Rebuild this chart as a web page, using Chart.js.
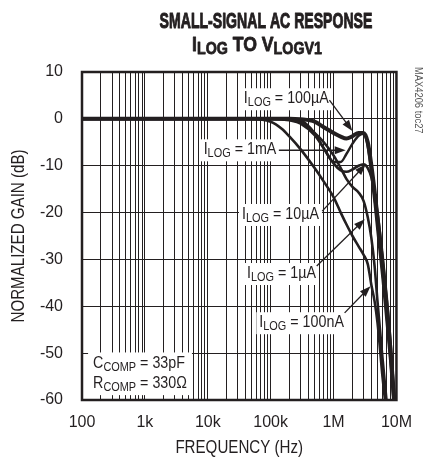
<!DOCTYPE html>
<html>
<head>
<meta charset="utf-8">
<script src="https://cdn.jsdelivr.net/npm/chart.js@4.4.1/dist/chart.umd.min.js"></script>
<style>
  html, body { margin: 0; padding: 0; background: #fff; }
  #wrap { width: 425px; height: 460px; }
</style>
</head>
<body>
<div id="wrap"><canvas id="chart" width="425" height="460"></canvas></div>
<script>
const FONT = "'Liberation Sans', Arial, sans-serif";
const INK = '#231f20';
const SQUEEZE = 0.84; // narrow-type look

// frequency points (Hz)
const freqs = [100, 1e3, 1e4, 5e4, 1e5, 1.5e5, 2e5, 3e5, 5e5, 7e5, 1e6, 1.3e6, 1.6e6, 2e6, 2.5e6, 3e6, 3.5e6, 4e6, 4.5e6, 5e6, 6e6, 7e6, 8e6, 9e6, 1e7];

// normalized gain (dB) for each ILOG
const gain100nA = [0, 0, 0, 0, -0.6, -2.1, -3.8, -6.5, -10.5, -13.4, -16.7, -20, -22.5, -25, -27.2, -29, -31, -35.5, -39, -43.5, -55, -63.5, -71, -78, -85];
const gain1uA   = [0, 0, 0, 0, 0, 0, -0.2, -0.8, -3, -5, -7.8, -10.5, -12.8, -14.5, -15.7, -17.5, -21, -25.5, -31.5, -39, -51, -60.5, -68, -75, -82];
const gain10uA  = [0, 0, 0, 0, 0, -0.1, -0.3, -1, -3.5, -6.3, -9.5, -11, -11.3, -10.8, -10, -9.7, -10.5, -12.5, -16, -20, -29, -38, -47, -57, -65];
const gain100uA = [0, 0, 0, 0, 0, 0, 0, -0.1, -0.6, -1.8, -3, -3.8, -4.2, -3.7, -3, -3, -5, -10, -15.5, -21, -31, -40, -49, -58, -66];
const gain1mA   = [0, 0, 0, 0, 0, -0.1, -0.2, -0.4, -3, -6.3, -9.2, -9.2, -7.5, -5.3, -3.6, -3.2, -6, -12, -18, -24, -34, -43.5, -52, -61, -69];

// axis ticks
const decades = [100, 1e3, 1e4, 1e5, 1e6, 1e7];
const decadeLabels = ['100', '1k', '10k', '100k', '1M', '10M'];
const gainTicks = [10, 0, -10, -20, -30, -40, -50, -60];

// annotation text, anchor (freq, dB), arrow tail and head (freq, dB)
const notes = [
  { rest: ' = 100µA', at: [3.75e4, 4.4], tail: [8.6e5, 4.0], head: [1.99e6, -2.6] },
  { rest: ' = 1mA', at: [8.6e3, -6.5], tail: [1.35e5, -6.7], head: [1.56e6, -6.7] },
  { rest: ' = 10µA', at: [3.5e4, -20.3], tail: [6.6e5, -19.7], head: [3.25e6, -9.7] },
  { rest: ' = 1µA', at: [4.2e4, -32.9], tail: [5.4e5, -31.4], head: [3.14e6, -21.4] },
  { rest: ' = 100nA', at: [6.6e4, -43.4], tail: [1.5e6, -41.4], head: [3.87e6, -35.7] }
];
const compNotes = [
  { lead: 'C', sub: 'COMP', rest: ' = 33pF', at: [150, -52.2] },
  { lead: 'R', sub: 'COMP', rest: ' = 330Ω', at: [150, -56.4] }
];

Chart.defaults.font.family = FONT;
Chart.defaults.color = INK;

// draws mixed normal/subscript runs, horizontally squeezed; returns width
function richText(ctx, parts, x, y, opt, draw) {
  const sx = opt.sx || SQUEEZE;
  ctx.save();
  ctx.translate(x, y);
  ctx.scale(sx, 1);
  let cx = 0;
  parts.forEach(p => {
    ctx.font = (opt.bold ? 'bold ' : '') + (p.sub ? opt.sub : opt.size) + 'px ' + FONT;
    if (draw) {
      ctx.fillText(p.t, cx, p.sub ? opt.drop : 0);
      if (opt.heavy) {
        ctx.lineWidth = opt.heavy;
        ctx.strokeText(p.t, cx, p.sub ? opt.drop : 0);
      }
    }
    cx += ctx.measureText(p.t).width;
  });
  ctx.restore();
  return cx * sx;
}

function arrow(ctx, x1, y1, x2, y2) {
  const a = Math.atan2(y2 - y1, x2 - x1);
  const len = 11, w = 4;
  ctx.beginPath();
  ctx.moveTo(x1, y1);
  ctx.lineTo(x2 - Math.cos(a) * len * 0.8, y2 - Math.sin(a) * len * 0.8);
  ctx.stroke();
  ctx.beginPath();
  ctx.moveTo(x2, y2);
  ctx.lineTo(x2 - Math.cos(a) * len - Math.sin(a) * w, y2 - Math.sin(a) * len + Math.cos(a) * w);
  ctx.lineTo(x2 - Math.cos(a) * len + Math.sin(a) * w, y2 - Math.sin(a) * len - Math.cos(a) * w);
  ctx.closePath();
  ctx.fill();
}

const labelOpt = { size: 17, sub: 13, drop: 4 };

const decorations = {
  id: 'decorations',
  afterDatasetsDraw(chart) {
    const { ctx, chartArea: ca, scales: { x, y } } = chart;
    ctx.save();
    ctx.fillStyle = INK;
    ctx.strokeStyle = INK;
    ctx.textBaseline = 'middle';
    ctx.textAlign = 'left';

    // ILOG labels with arrows
    notes.forEach(n => {
      const parts = [{ t: 'I' }, { t: 'LOG', sub: true }, { t: n.rest }];
      const px = x.getPixelForValue(n.at[0]);
      const py = y.getPixelForValue(n.at[1]);
      const w = richText(ctx, parts, px, py, labelOpt, false);
      ctx.fillStyle = '#fff';
      ctx.fillRect(px - 3, py - 10, w + 6, 22);
      ctx.fillStyle = INK;
      richText(ctx, parts, px, py, labelOpt, true);
      ctx.lineWidth = 1.3;
      arrow(ctx, x.getPixelForValue(n.tail[0]), y.getPixelForValue(n.tail[1]),
        x.getPixelForValue(n.head[0]), y.getPixelForValue(n.head[1]));
    });

    // compensation box
    const cParts = compNotes.map(n => [{ t: n.lead }, { t: n.sub, sub: true }, { t: n.rest }]);
    const cx = x.getPixelForValue(compNotes[0].at[0]);
    const cy0 = y.getPixelForValue(compNotes[0].at[1]);
    const cy1 = y.getPixelForValue(compNotes[1].at[1]);
    const cw = Math.max(...cParts.map(p => richText(ctx, p, cx, cy0, labelOpt, false)));
    ctx.fillStyle = '#fff';
    ctx.fillRect(cx - 5, cy0 - 11, cw + 10, cy1 - cy0 + 23);
    ctx.fillStyle = INK;
    cParts.forEach((p, i) => richText(ctx, p, cx, i ? cy1 : cy0, labelOpt, true));

    // frame
    ctx.lineWidth = 2.5;
    ctx.strokeRect(ca.left, ca.top, ca.right - ca.left, ca.bottom - ca.top);

    // axis titles
    const xt = [{ t: 'FREQUENCY (Hz)' }];
    const xw = richText(ctx, xt, 0, 0, { size: 18 }, false);
    richText(ctx, xt, (ca.left + ca.right) / 2 - xw / 2, 448, { size: 18 }, true);

    ctx.save();
    ctx.translate(19, (ca.top + ca.bottom) / 2);
    ctx.rotate(-Math.PI / 2);
    const yt = [{ t: 'NORMALIZED GAIN (dB)' }];
    const yw = richText(ctx, yt, 0, 0, { size: 18 }, false);
    richText(ctx, yt, -yw / 2, 0, { size: 18 }, true);
    ctx.restore();

    // side code
    ctx.save();
    ctx.translate(418, 67);
    ctx.rotate(Math.PI / 2);
    ctx.fillStyle = '#555';
    richText(ctx, [{ t: 'MAX4206 toc27' }], 0, 0, { size: 11, sx: 0.85 }, true);
    ctx.restore();

    // title
    ctx.textBaseline = 'alphabetic';
    ctx.lineJoin = 'round';
    const t1 = [{ t: 'SMALL-SIGNAL AC RESPONSE' }];
    const o1 = { size: 22, bold: true, sx: 0.64, heavy: 1 };
    const w1 = richText(ctx, t1, 0, 0, o1, false);
    richText(ctx, t1, 266 - w1 / 2, 28, o1, true);

    const t2 = [{ t: 'I' }, { t: 'LOG', sub: true }, { t: ' TO V' }, { t: 'LOGV1', sub: true }];
    const o2 = { size: 21, sub: 17, drop: 3, bold: true, sx: 0.84, heavy: 0.8 };
    const w2 = richText(ctx, t2, 0, 0, o2, false);
    richText(ctx, t2, 257 - w2 / 2, 51, o2, true);

    ctx.restore();
  }
};

const lineStyle = (label, data, width) => ({
  label,
  data: freqs.map((f, i) => ({ x: f, y: data[i] })),
  borderColor: INK,
  borderWidth: width,
  pointRadius: 0,
  cubicInterpolationMode: 'monotone',
  fill: false
});

new Chart(document.getElementById('chart'), {
  type: 'line',
  data: {
    datasets: [
      lineStyle('100nA', gain100nA, 2.6),
      lineStyle('1µA', gain1uA, 2.6),
      lineStyle('10µA', gain10uA, 2.6),
      lineStyle('1mA', gain1mA, 2.4),
      lineStyle('100µA', gain100uA, 4)
    ]
  },
  options: {
    responsive: false,
    animation: false,
    devicePixelRatio: 1,
    layout: { padding: { top: 72, right: 15, bottom: 2, left: 0 } },
    plugins: { legend: { display: false }, tooltip: { enabled: false } },
    scales: {
      x: {
        type: 'logarithmic',
        min: 100,
        max: 1e7,
        afterFit: s => { s.height = 58; },
        afterBuildTicks: s => {
          const t = [];
          decades.forEach((d, i) => {
            const top = i === decades.length - 1 ? 1 : 9;
            for (let k = 1; k <= top; k++) t.push({ value: d * k, major: k === 1 });
          });
          s.ticks = t;
        },
        grid: { color: INK, lineWidth: 1, drawTicks: false },
        border: { display: false },
        ticks: {
          autoSkip: false,
          maxRotation: 0,
          padding: 13,
          font: { size: 16 },
          color: INK,
          callback: v => {
            const i = decades.indexOf(v);
            return i >= 0 ? decadeLabels[i] : '';
          }
        }
      },
      y: {
        min: -60,
        max: 10,
        afterFit: s => { s.width = 82; },
        afterBuildTicks: s => { s.ticks = gainTicks.map(v => ({ value: v })); },
        grid: { color: INK, lineWidth: 1, drawTicks: false },
        border: { display: false },
        ticks: { padding: 19, font: { size: 16 }, color: INK }
      }
    }
  },
  plugins: [decorations]
});
</script>
</body>
</html>
